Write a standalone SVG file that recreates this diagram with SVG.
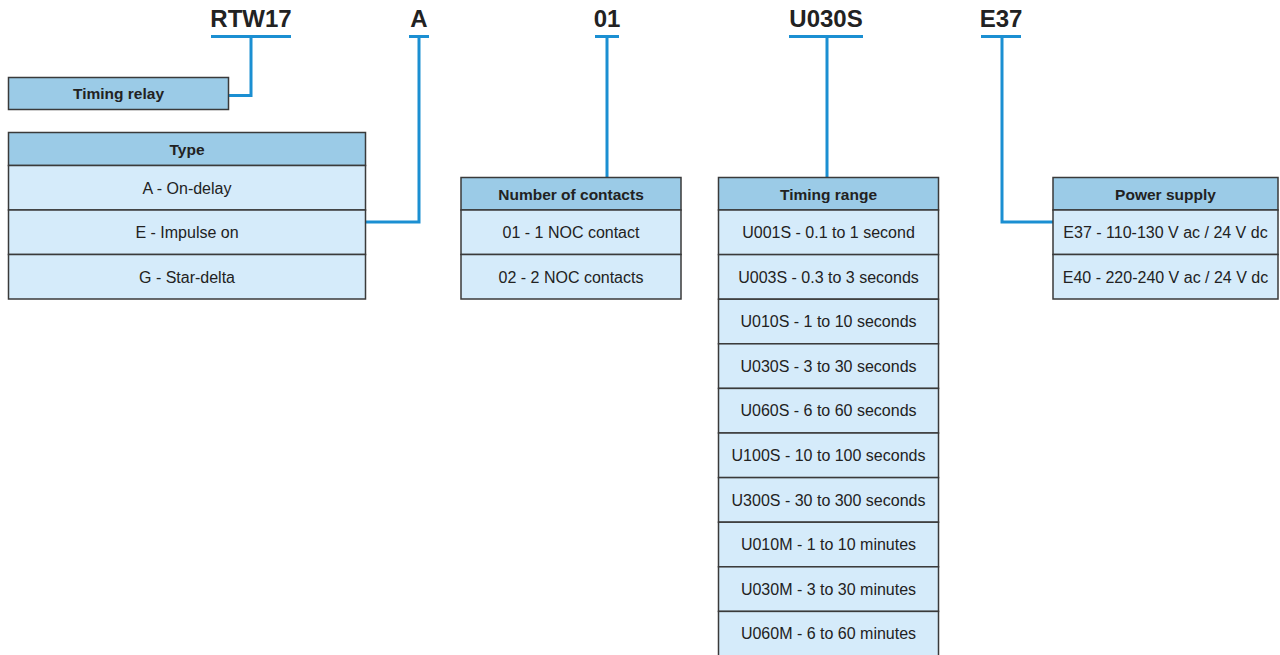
<svg xmlns="http://www.w3.org/2000/svg" width="1280" height="655" viewBox="0 0 1280 655">
<style>
.hd{fill:#9bcbe7;stroke:#3a3a3a;stroke-width:1.5}
.rw{fill:#d5ebfa;stroke:#3a3a3a;stroke-width:1.5}
.ht{font-family:"Liberation Sans",Arial,sans-serif;font-weight:bold;font-size:15.5px;fill:#222;text-anchor:middle}
.rt{font-family:"Liberation Sans",Arial,sans-serif;font-size:16px;fill:#222;text-anchor:middle}
.tt{font-family:"Liberation Sans",Arial,sans-serif;font-weight:bold;font-size:24px;fill:#222;text-anchor:middle}
.ln{fill:none;stroke:#1b8fd2;stroke-width:3}
</style>
<rect width="1280" height="655" fill="#fff"/>
<g id="titles">
<text class="tt" x="251" y="27">RTW17</text>
<text class="tt" x="419" y="27">A</text>
<text class="tt" x="607" y="27">01</text>
<text class="tt" x="826" y="27">U030S</text>
<text class="tt" x="1001" y="27">E37</text>
</g>
<g id="connectors">
<path class="ln" d="M211 36.5H291M251 36.5V95.5H229"/>
<path class="ln" d="M409 36.5H429M419 36.5V222H366"/>
<path class="ln" d="M595 36.5H619M607 36.5V177"/>
<path class="ln" d="M789 36.5H863M827 36.5V177"/>
<path class="ln" d="M981 36.5H1021M1002 36.5V222H1053"/>
</g>
<g id="timing-relay">
<rect class="hd" x="8.5" y="77.5" width="220" height="32"/>
<text class="ht" x="118.5" y="99">Timing relay</text>
</g>
<g id="type">
<rect class="hd" x="8.5" y="132.5" width="357" height="33"/>
<text class="ht" x="187" y="154.5">Type</text>
<rect class="rw" x="8.5" y="165.5" width="357" height="44.5"/>
<text class="rt" x="187" y="193.5">A - On-delay</text>
<rect class="rw" x="8.5" y="210" width="357" height="44.5"/>
<text class="rt" x="187" y="238">E - Impulse on</text>
<rect class="rw" x="8.5" y="254.5" width="357" height="44.5"/>
<text class="rt" x="187" y="282.5">G - Star-delta</text>
</g>
<g id="contacts">
<rect class="hd" x="461" y="177.5" width="220" height="32.5"/>
<text class="ht" x="571" y="199.5">Number of contacts</text>
<rect class="rw" x="461" y="210" width="220" height="44.5"/>
<text class="rt" x="571" y="238">01 - 1 NOC contact</text>
<rect class="rw" x="461" y="254.5" width="220" height="44.5"/>
<text class="rt" x="571" y="282.5">02 - 2 NOC contacts</text>
</g>
<g id="timing-range">
<rect class="hd" x="718.5" y="177.5" width="220" height="32.5"/>
<text class="ht" x="828.5" y="199.5">Timing range</text>
<rect class="rw" x="718.5" y="210" width="220" height="44.6"/>
<text class="rt" x="828.5" y="238">U001S - 0.1 to 1 second</text>
<rect class="rw" x="718.5" y="254.6" width="220" height="44.6"/>
<text class="rt" x="828.5" y="282.6">U003S - 0.3 to 3 seconds</text>
<rect class="rw" x="718.5" y="299.2" width="220" height="44.6"/>
<text class="rt" x="828.5" y="327.2">U010S - 1 to 10 seconds</text>
<rect class="rw" x="718.5" y="343.8" width="220" height="44.6"/>
<text class="rt" x="828.5" y="371.8">U030S - 3 to 30 seconds</text>
<rect class="rw" x="718.5" y="388.4" width="220" height="44.6"/>
<text class="rt" x="828.5" y="416.4">U060S - 6 to 60 seconds</text>
<rect class="rw" x="718.5" y="433" width="220" height="44.6"/>
<text class="rt" x="828.5" y="461">U100S - 10 to 100 seconds</text>
<rect class="rw" x="718.5" y="477.6" width="220" height="44.6"/>
<text class="rt" x="828.5" y="505.6">U300S - 30 to 300 seconds</text>
<rect class="rw" x="718.5" y="522.2" width="220" height="44.6"/>
<text class="rt" x="828.5" y="550.2">U010M - 1 to 10 minutes</text>
<rect class="rw" x="718.5" y="566.8" width="220" height="44.6"/>
<text class="rt" x="828.5" y="594.8">U030M - 3 to 30 minutes</text>
<rect class="rw" x="718.5" y="611.4" width="220" height="44.6"/>
<text class="rt" x="828.5" y="639.4">U060M - 6 to 60 minutes</text>
</g>
<g id="power-supply">
<rect class="hd" x="1053" y="177.5" width="225" height="32.5"/>
<text class="ht" x="1165.5" y="199.5">Power supply</text>
<rect class="rw" x="1053" y="210" width="225" height="44.5"/>
<text class="rt" x="1165.5" y="238">E37 - 110-130 V ac / 24 V dc</text>
<rect class="rw" x="1053" y="254.5" width="225" height="44.5"/>
<text class="rt" x="1165.5" y="282.5">E40 - 220-240 V ac / 24 V dc</text>
</g>
</svg>
